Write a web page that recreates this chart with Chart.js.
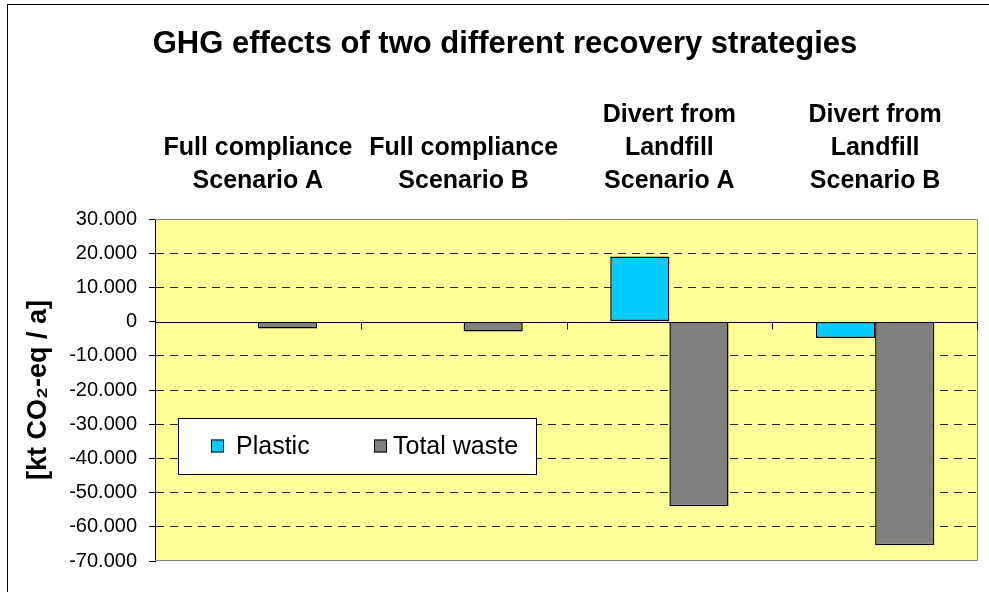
<!DOCTYPE html>
<html>
<head>
<meta charset="utf-8">
<script src="https://cdn.jsdelivr.net/npm/chart.js@4.4.1/dist/chart.umd.min.js"></script>
<style>
html, body { margin: 0; padding: 0; background: #fff; overflow: hidden; }
#frame { position: absolute; left: 7px; top: 4px; width: 1100px; height: 700px; border: 1px solid #000; }
#wrap { position: absolute; left: 0; top: 0; width: 989px; height: 592px; }
</style>
</head>
<body>
<div id="frame"></div>
<div id="wrap"><canvas id="chartCanvas"></canvas></div>
<script>
// chart data
var categories = [
    ["Full compliance", "Scenario A"],
    ["Full compliance", "Scenario B"],
    ["Divert from", "Landfill", "Scenario A"],
    ["Divert from", "Landfill", "Scenario B"]
];
var seriesNames = ["Plastic", "Total waste"];
var plasticValues = [0, -400, 19000, -4800];
var totalWasteValues = [-2000, -2900, -54000, -65400];
var yMin = -70000;
var yMax = 30000;
var yStep = 10000;

var FONT = "'Liberation Sans', Arial, sans-serif";

//format like 30.000 / -70.000
function formatTick(v){
    var s = String(Math.abs(v)).replace(/\B(?=(\d{3})+(?!\d))/g, ".");
    return (v < 0 ? "-" : "") + s;
}

//yellow plot background, frame and zero line
var plotBackground = {
    id: "plotBackground",
    beforeDraw: function(chart){
        var a = chart.chartArea;
        var ctx = chart.ctx;
        ctx.save();
        ctx.fillStyle = "#FFFF99";
        ctx.fillRect(a.left, a.top, a.right - a.left, a.bottom - a.top);
        ctx.restore();
    },
    beforeDatasetsDraw: function(chart){
        var a = chart.chartArea;
        var ctx = chart.ctx;
        var y = chart.scales.y;
        var x = chart.scales.x;
        ctx.save();
        ctx.strokeStyle = "#808080";
        ctx.lineWidth = 1;
        ctx.beginPath();
        ctx.moveTo(a.left, a.top + 0.5);
        ctx.lineTo(a.right - 0.5, a.top + 0.5);
        ctx.lineTo(a.right - 0.5, a.bottom - 0.5);
        ctx.lineTo(a.left, a.bottom - 0.5);
        ctx.stroke();
        var zy = Math.round(y.getPixelForValue(0)) + 0.5;
        ctx.strokeStyle = "#000";
        ctx.beginPath();
        ctx.moveTo(a.left, zy);
        ctx.lineTo(a.right, zy);
        var n = categories.length;
        for(var i = 0; i <= n; i++){
            var px = Math.round(x.left + i * (x.right - x.left) / n) + 0.5;
            if(i == n) px -= 1;
            ctx.moveTo(px, zy);
            ctx.lineTo(px, zy + 7);
        }
        ctx.stroke();
        ctx.restore();
    }
};

//legend box inside the plot
var innerLegend = {
    id: "innerLegend",
    afterDatasetsDraw: function(chart){
        var a = chart.chartArea;
        var ctx = chart.ctx;
        var bx = a.left + 23, by = a.top + 199, bw = 359, bh = 57;
        ctx.save();
        ctx.fillStyle = "#fff";
        ctx.fillRect(bx, by, bw, bh);
        ctx.strokeStyle = "#000";
        ctx.lineWidth = 1;
        ctx.strokeRect(bx + 0.5, by + 0.5, bw - 1, bh - 1);
        var boxOffsets = [33, 196];
        var textOffsets = [58, 215];
        ctx.font = "25px " + FONT;
        ctx.textBaseline = "middle";
        for(var i = 0; i < chart.data.datasets.length; i++){
            var ds = chart.data.datasets[i];
            var sx = bx + boxOffsets[i];
            var cy = by + bh / 2;
            ctx.fillStyle = ds.backgroundColor;
            ctx.fillRect(sx, cy - 7, 13, 13);
            ctx.strokeStyle = "#000";
            ctx.strokeRect(sx + 0.5, cy - 6.5, 12, 12);
            ctx.fillStyle = "#000";
            ctx.fillText(ds.label, bx + textOffsets[i], cy + 1);
        }
        ctx.restore();
    }
};

var currentChart = new Chart(document.getElementById("chartCanvas"), {
    type: "bar",
    data: {
        labels: categories,
        datasets: [{
            label: seriesNames[0],
            data: plasticValues,
            backgroundColor: "#00CCFF",
            borderColor: "#000",
            borderWidth: 1.5,
            borderSkipped: false,
            categoryPercentage: 0.575,
            barPercentage: 1.0
        }, {
            label: seriesNames[1],
            data: totalWasteValues,
            backgroundColor: "#808080",
            borderColor: "#000",
            borderWidth: 1.5,
            borderSkipped: false,
            categoryPercentage: 0.575,
            barPercentage: 1.0
        }]
    },
    options: {
        responsive: true,
        maintainAspectRatio: false,
        animation: false,
        layout: { padding: { left: 32, right: 11, top: 0, bottom: 31 } },
        plugins: {
            legend: { display: false },
            tooltip: { enabled: false },
            title: {
                display: true,
                text: "GHG effects of two different recovery strategies",
                color: "#000",
                font: { family: FONT, size: 31, weight: "bold" },
                padding: { top: 26, bottom: 5 }
            }
        },
        scales: {
            x: {
                position: "top",
                offset: true,
                grid: { display: false, drawTicks: false },
                border: { display: false },
                ticks: {
                    color: "#000",
                    padding: 21,
                    maxRotation: 0,
                    autoSkip: false,
                    font: { family: FONT, size: 25, weight: "bold", lineHeight: 1.32 }
                },
                afterFit: function(scale){ scale.height = 150.8; }
            },
            y: {
                min: yMin,
                max: yMax,
                ticks: {
                    stepSize: yStep,
                    color: "#000",
                    padding: 12,
                    font: { family: FONT, size: 20 },
                    callback: function(v){ return formatTick(v); }
                },
                grid: {
                    color: function(ctx){
                        var v = ctx.tick ? ctx.tick.value : null;
                        if(v === yMin || v === yMax || v === 0) return "rgba(0,0,0,0)";
                        return "#222";
                    },
                    tickColor: "#000",
                    tickLength: 6,
                    lineWidth: 1
                },
                border: { display: true, color: "#000", width: 1, dash: [8, 6] },
                title: {
                    display: true,
                    text: "[kt CO\u2082-eq / a]",
                    color: "#000",
                    font: { family: FONT, size: 27, weight: "bold" },
                    padding: { top: -10, bottom: 0 }
                },
                afterFit: function(scale){ scale.width = 123; }
            }
        }
    },
    plugins: [plotBackground, innerLegend]
});
</script>
</body>
</html>
